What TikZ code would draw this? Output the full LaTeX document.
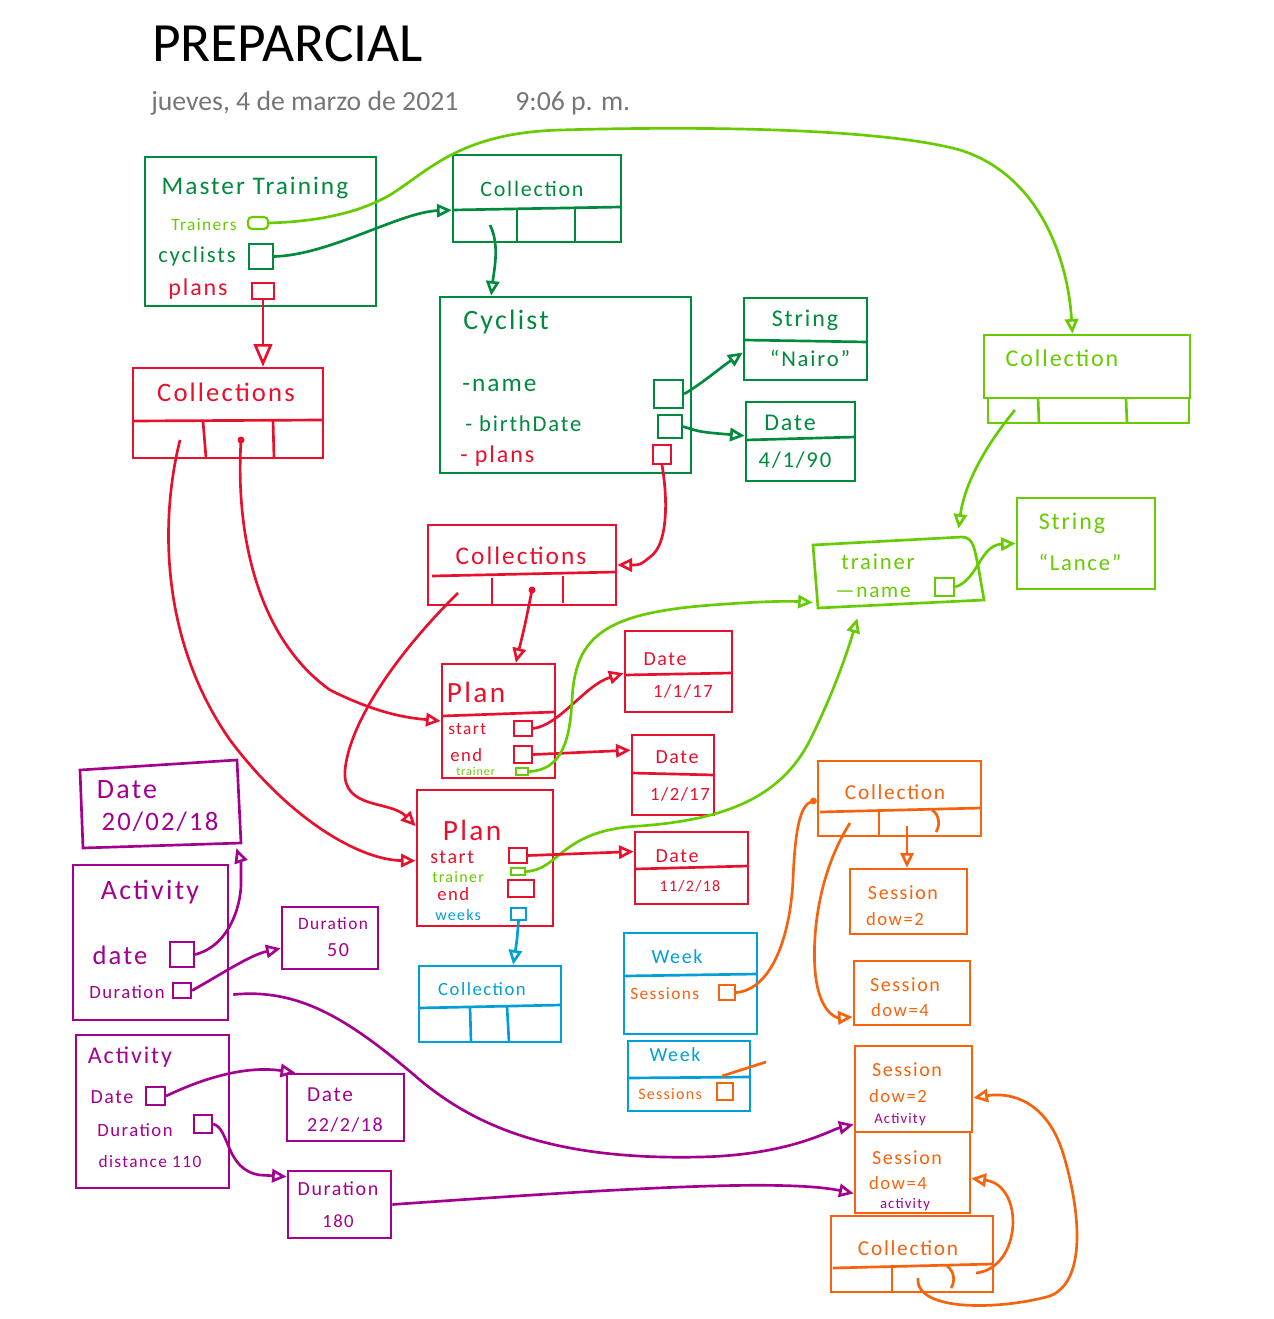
\documentclass[tikz,border=0pt]{standalone}
\usepackage{fontspec}
\setmainfont{Carlito}
\newfontfamily\hand[LetterSpace=8]{Carlito}
\usetikzlibrary{arrows.meta,fit,calc}
\newcommand\fz[1]{\fontsize{#1}{#1}\selectfont}
\definecolor{dg}{HTML}{008A3E}
\definecolor{lg}{HTML}{66CC00}
\definecolor{rd}{HTML}{E8112D}
\definecolor{pu}{HTML}{A3008F}
\definecolor{og}{HTML}{F7630C}
\definecolor{bl}{HTML}{00A0D6}
\definecolor{gy}{HTML}{767676}
\newcommand\mybox[6]{\node[hb,draw=#6,fit={(#2,#3)(#4,#5)}] (#1) {};}
\newcommand\mysbox[6]{\node[sbx,draw=#6,fit={(#2,#3)(#4,#5)}] (#1) {};}
\begin{document}
\begin{tikzpicture}[x=0.75pt,y=-0.75pt,
  hb/.style={inner sep=0pt,line width=2pt},
  sbx/.style={inner sep=0pt,line width=1.6pt},
  ln/.style={line width=2pt},
  lab/.style={inner sep=0pt,font=\hand\fz{#1}},lab/.default=16,
  arr/.style={line width=2pt,-{Triangle[open,length=11pt,width=10pt]}},
  bigarr/.style={line width=2pt,-{Triangle[open,length=17pt,width=14pt]}},
  dotarr/.style={line width=2pt,-{Circle[length=5pt]}}]
\fill[white] (0,0) rectangle (1273,1319);
\useasboundingbox (0,0) rectangle (1273,1319);

% header
\node[anchor=west,inner sep=0pt,font=\fz{41.5}] (title) at (152,44) {PREPARCIAL};
\node[anchor=west,inner sep=0pt,font=\fz{20.8},text=gy] (day) at (151,103) {jueves, 4 de marzo de 2021};
\node[anchor=west,inner sep=0pt,font=\fz{20.8},text=gy] (hour) at (515,103) {9:06 p. m.};

% Master Training
\mybox{mt}{145}{157}{376}{306}{dg}
\node[lab=19,text=dg] (mtt) at (255,188) {Master Training};
\node[lab=13,text=lg] (mttrl) at (204,225) {Trainers};
\node[sbx,draw=lg,rounded corners=3pt,fit={(248,217)(268,229)}] (mttr) {};
\node[lab=17,text=dg] (mtcyl) at (197,256) {cyclists};
\mysbox{mtcy}{249}{244}{273}{269}{dg}
\node[lab=18,text=rd] (mtpll) at (198,289) {plans};
\mysbox{mtpl}{252}{283}{274}{299}{rd}

% Collection (dark green)
\mybox{colA}{453}{155}{621}{242}{dg}
\draw[dg,ln] (453,210) -- (621,207);
\draw[dg,ln] (517,210) -- (517,242) (575,209) -- (575,242);
\node[lab=16.5,text=dg] (colAt) at (532,189) {Collection};
\coordinate (colAc1) at (490,225);

% Cyclist
\mybox{cyc}{440}{297}{691}{473}{dg}
\node[lab=21,text=dg] (cyct) at (506,322) {Cyclist};
\node[lab=19,text=dg,anchor=west] (cycnl) at (462,385) {-name};
\node[lab=17,text=dg,anchor=west] (cycbl) at (465,424) {- birthDate};
\node[lab=18,text=rd,anchor=west] (cycpl) at (460,456) {- plans};
\mysbox{cycn}{654}{380}{683}{408}{dg}
\mysbox{cycb}{658}{415}{682}{438}{dg}
\mysbox{cycp}{653}{445}{671}{464}{rd}

% String Nairo
\mybox{strN}{744}{298}{867}{380}{dg}
\draw[dg,ln] (744,340) -- (867,342);
\node[lab=18,text=dg] (strNt) at (805,320) {String};
\node[lab=17,text=dg] (strNv) at (810,358) {“Nairo”};

% Date 4/1/90
\mybox{dtA}{746}{402}{855}{481}{dg}
\draw[dg,ln] (746,440) -- (855,437);
\node[lab=18,text=dg] (dtAt) at (790,423) {Date};
\node[lab=17,text=dg] (dtAv) at (795,460) {4/1/90};

% Collection (light green)
\mybox{colT}{984}{335}{1190}{398}{lg}
\mybox{colTc}{988}{398}{1189}{423}{lg}
\draw[lg,ln] (1038,398) -- (1039,423) (1126,399) -- (1127,423);
\node[lab=18,text=lg] (colTt) at (1062,358) {Collection};
\coordinate (colTc1) at (1015,410);

% trainer
\draw[lg,ln] (813,545) -- (962,537) to[out=0,in=105] (978,565) -- (984,600) -- (818,608) -- cycle;
\node[inner sep=0pt,fit={(813,537)(984,608)}] (trn) {};
\node[lab=17,text=lg] (trnt) at (878,562) {trainer};
\node[lab=16,text=lg] (trnl) at (873,592) {—name};
\mysbox{trnn}{935}{578}{954}{596}{lg}

% String Lance
\mybox{strL}{1017}{498}{1155}{589}{lg}
\node[lab=18,text=lg] (strLt) at (1072,523) {String};
\node[lab=17,text=lg] (strLv) at (1080,562) {“Lance”};

% Collections red top-left
\mybox{colR}{133}{368}{323}{458}{rd}
\draw[rd,ln] (133,421) -- (323,420);
\draw[rd,ln] (203,421) -- (206,458) (273,420) -- (274,458);
\node[lab=20,text=rd] (colRt) at (226,392) {Collections};
\coordinate (colRc1) at (180,440);
\coordinate (colRc2) at (241,440);

% Collections red mid
\mybox{colM}{428}{525}{616}{605}{rd}
\draw[rd,ln] (432,576) -- (616,572);
\draw[rd,ln] (492,578) -- (492,604) (563,576) -- (563,603);
\node[lab=19,text=rd] (colMt) at (521,556) {Collections};
\coordinate (colMc1) at (458,593);
\coordinate (colMc2) at (532,590);

% Plan 1
\mybox{pl1}{442}{664}{555}{778}{rd}
\draw[rd,ln] (442,716) -- (555,712);
\node[lab=22,text=rd] (pl1t) at (476,692) {Plan};
\node[lab=13,text=rd,anchor=west] (pl1sl) at (448,729) {start};
\node[lab=14,text=rd,anchor=west] (pl1el) at (450,755) {end};
\node[lab=9,text=lg,anchor=west] (pl1tl) at (456,771) {trainer};
\mysbox{pl1s}{514}{721}{532}{736}{rd}
\mysbox{pl1e}{514}{746}{532}{763}{rd}
\mysbox{pl1tr}{516}{768}{528}{775}{lg}

% Date 1/1/17
\mybox{d1}{625}{631}{732}{712}{rd}
\draw[rd,ln] (625,675) -- (732,673);
\node[lab=15,text=rd] (d1t) at (665,659) {Date};
\node[lab=14,text=rd] (d1v) at (683,691) {1/1/17};

% Date 1/2/17
\mybox{d2}{632}{735}{714}{815}{rd}
\draw[rd,ln] (632,773) -- (714,775);
\node[lab=15,text=rd] (d2t) at (677,757) {Date};
\node[lab=14,text=rd] (d2v) at (680,794) {1/2/17};

% Plan 2
\mybox{pl2}{417}{790}{553}{926}{rd}
\node[lab=22,text=rd] (pl2t) at (472,830) {Plan};
\node[lab=15,text=rd,anchor=west] (pl2sl) at (430,857) {start};
\node[lab=12,text=lg,anchor=west] (pl2tl) at (432,877) {trainer};
\node[lab=14,text=rd,anchor=west] (pl2el) at (437,894) {end};
\node[lab=12,text=bl,anchor=west] (pl2wl) at (435,915) {weeks};
\mysbox{pl2s}{509}{848}{527}{863}{rd}
\mysbox{pl2tr}{511}{868}{525}{875}{lg}
\mysbox{pl2e}{508}{880}{534}{897}{rd}
\mysbox{pl2w}{511}{908}{526}{920}{bl}

% Date 11/2/18
\mybox{d3}{635}{832}{748}{904}{rd}
\draw[rd,ln] (635,869) -- (748,866);
\node[lab=15,text=rd] (d3t) at (677,856) {Date};
\node[lab=12,text=rd] (d3v) at (690,886) {11/2/18};

% Collection blue
\mybox{colB}{419}{966}{561}{1042}{bl}
\draw[bl,ln] (419,1008) -- (561,1005);
\draw[bl,ln] (470,1007) -- (471,1042) (507,1006) -- (509,1042);
\node[lab=14,text=bl] (colBt) at (482,989) {Collection};

% Week 1
\mybox{wk1}{624}{933}{757}{1034}{bl}
\draw[bl,ln] (624,976) -- (757,974);
\node[lab=15,text=bl] (wk1t) at (677,957) {Week};
\node[lab=13,text=og,anchor=west] (wk1l) at (630,994) {Sessions};
\mysbox{wk1s}{719}{985}{735}{1000}{og}

% Week 2
\mybox{wk2}{628}{1041}{750}{1111}{bl}
\draw[bl,ln] (628,1078) -- (750,1077);
\node[lab=15,text=bl] (wk2t) at (675,1055) {Week};
\node[lab=12,text=og,anchor=west] (wk2l) at (638,1094) {Sessions};
\mysbox{wk2s}{717}{1083}{733}{1100}{og}
\coordinate (wk2a) at (722,1076);
\coordinate (wk2b) at (766,1062);
\draw[og,ln] (wk2a) -- (wk2b);

% Collection orange
\mybox{colO}{818}{761}{981}{836}{og}
\draw[og,ln] (820,812) -- (981,808);
\draw[og,ln] (879,812) -- (879,836);
\draw[og,ln] (932,810) .. controls (940,815) and (940,826) .. (936,832);
\node[lab=16,text=og] (colOt) at (895,792) {Collection};
\coordinate (colOc1) at (850,823);
\coordinate (colOc2) at (907,826);

% Sessions
\mybox{s1}{850}{869}{967}{934}{og}
\node[lab=15,text=og] (s1t) at (903,893) {Session};
\node[lab=14,text=og] (s1v) at (895,919) {dow=2};
\mybox{s2}{854}{961}{970}{1025}{og}
\node[lab=15,text=og] (s2t) at (905,985) {Session};
\node[lab=14,text=og] (s2v) at (900,1010) {dow=4};
\mybox{s3}{855}{1046}{972}{1132}{og}
\node[lab=15,text=og] (s3t) at (907,1070) {Session};
\node[lab=14,text=og] (s3v) at (898,1096) {dow=2};
\node[lab=11,text=pu] (s3a) at (900,1120) {Activity};
\mybox{s4}{855}{1132}{970}{1213}{og}
\node[lab=15,text=og] (s4t) at (907,1158) {Session};
\node[lab=14,text=og] (s4v) at (898,1183) {dow=4};
\node[lab=11,text=pu] (s4a) at (905,1205) {activity};

% Collection orange bottom
\mybox{colO2}{831}{1216}{993}{1292}{og}
\draw[og,ln] (833,1268) -- (993,1264);
\draw[og,ln] (892,1268) -- (892,1292);
\draw[og,ln] (947,1266) .. controls (955,1272) and (955,1282) .. (951,1288);
\node[lab=16,text=og] (colO2t) at (908,1248) {Collection};
\coordinate (colO2c1) at (918,1278);
\coordinate (colO2c2) at (976,1273);

% Date 20/02/18 (purple)
\draw[pu,ln] (80,770) -- (237,760) -- (241,843) -- (83,848) -- cycle;
\node[inner sep=0pt,fit={(80,760)(241,848)}] (dP) {};
\node[lab=21,text=pu] (dPt) at (127,790) {Date};
\node[lab=20,text=pu] (dPv) at (160,822) {20/02/18};

% Activity 1
\mybox{ac1}{73}{865}{228}{1020}{pu}
\node[lab=21,text=pu] (ac1t) at (150,892) {Activity};
\node[lab=20,text=pu] (ac1dl) at (120,955) {date};
\mysbox{ac1d}{170}{942}{194}{967}{pu}
\node[lab=14,text=pu] (ac1ul) at (127,992) {Duration};
\mysbox{ac1u}{173}{983}{191}{998}{pu}

% Duration 50
\mybox{du50}{282}{907}{378}{969}{pu}
\node[lab=13,text=pu] (du50t) at (333,924) {Duration};
\node[lab=15,text=pu] (du50v) at (338,950) {50};

% Activity 2
\mybox{ac2}{76}{1035}{229}{1188}{pu}
\node[lab=18,text=pu] (ac2t) at (130,1057) {Activity};
\node[lab=15,text=pu] (ac2dl) at (112,1097) {Date};
\mysbox{ac2d}{146}{1087}{165}{1105}{pu}
\node[lab=14,text=pu] (ac2ul) at (135,1130) {Duration};
\mysbox{ac2u}{194}{1115}{212}{1133}{pu}
\node[lab=13,text=pu] (ac2x) at (150,1162) {distance 110};

% Date 22/2/18
\mybox{d22}{287}{1074}{404}{1141}{pu}
\node[lab=16,text=pu] (d22t) at (330,1095) {Date};
\node[lab=15,text=pu] (d22v) at (345,1125) {22/2/18};

% Duration 180
\mybox{du180}{288}{1171}{391}{1238}{pu}
\node[lab=15,text=pu] (du180t) at (338,1189) {Duration};
\node[lab=14,text=pu] (du180v) at (338,1221) {180};

%%%% connectors
% light green Trainers -> Collection
\draw[arr,lg] (mttr.east) .. controls (300,222) and (350,218) .. (390,195)
  .. controls (430,170) and (460,133) .. (560,130)
  .. controls (700,126) and (880,128) .. (960,150)
  .. controls (1040,175) and (1068,260) .. ($(colT.north west)!.43!(colT.north east)$);
% cyclists -> Collection
\draw[arr,dg] (mtcy.east) .. controls (330,255) and (400,212) .. ($(colA.north west)!.63!(colA.south west)$);
\draw[arr,dg] (colAc1) .. controls (500,245) and (494,270) .. ($(cyc.north west)!.207!(cyc.north east)$);
% plans -> Collections
\draw[bigarr,rd] (mtpl.south) -- (colR.north -| mtpl.south);
% name, birthDate
\draw[arr,dg] (cycn.east) .. controls (700,385) and (720,368) .. ($(strN.north west)!.66!(strN.south west)$);
\draw[arr,dg] (cycb.east) .. controls (700,432) .. ($(dtA.north west)!.43!(dtA.south west)$);
% cyclist plans -> Collections mid
\draw[arr,rd] (cycp.south) .. controls (668,500) and (668,545) .. (650,557) .. controls (640,565) .. (colM.east);
% Collection lg -> trainer
\draw[arr,lg] (colTc1) .. controls (990,440) and (965,480) .. ($(trn.north west)!.85!(trn.north east)+(0,-8)$);
% trainer name -> String Lance
\draw[arr,lg] (trnn.east) .. controls (978,580) and (980,545) .. (strL.west);
% Collections red -> Plans
\fill[rd] (colRc2) circle (3.5);
\draw[arr,rd] (colRc1) .. controls (160,520) and (160,640) .. (230,740)
  .. controls (290,820) and (360,860) .. ($(pl2.north west)!.52!(pl2.south west)$);
\draw[arr,rd] (colRc2) .. controls (235,540) and (260,640) .. (330,690)
  .. controls (380,715) and (410,718) .. ($(pl1.north west)!.5!(pl1.south west)$);
\draw[arr,rd] (colMc1) .. controls (400,650) and (350,720) .. (345,770)
  .. controls (342,810) and (390,800) .. ($(pl2.north west)!.27!(pl2.south west)$);
\fill[rd] (colMc2) circle (3.5);
\draw[arr,rd] (colMc2) .. controls (525,625) .. ($(pl1.north west)!.65!(pl1.north east)$);
% Plan 1 fields
\draw[arr,rd] (pl1s.east) .. controls (560,725) and (585,685) .. ($(d1.north west)!.52!(d1.south west)$);
\draw[arr,rd] (pl1e.east) -- ($(d2.north west)!.2!(d2.south west)$);
\draw[arr,lg] (pl1tr.east) .. controls (562,770) and (570,740) .. (572,700)
  .. controls (575,640) and (600,615) .. (700,606)
  .. controls (760,601) and (790,601) .. ($(trn.north west)!.92!(trn.south west)$);
% Plan 2 fields
\draw[arr,lg] (pl2tr.east) .. controls (560,870) and (560,830) .. (640,826)
  .. controls (720,820) and (780,800) .. (810,740)
  .. controls (830,700) and (845,660) .. ($(trn.south west)!.26!(trn.south east)+(0,10)$);
\draw[arr,rd] (pl2s.east) -- ($(d3.north west)!.28!(d3.south west)$);
\draw[arr,bl] (pl2w.south) .. controls (517,940) .. ($(colB.north west)!.66!(colB.north east)$);
% orange
\draw[dotarr,og] (wk1s.east) .. controls (770,990) and (790,940) .. (793,880)
  .. controls (795,830) and (800,805) .. ($(colO.north west)!.52!(colO.south west)$);
\draw[arr,og] (colOc2) -- (s1.north -| colOc2);
\draw[arr,og] (colOc1) .. controls (820,870) and (812,930) .. (815,970)
  .. controls (818,1010) and (835,1018) .. ($(s2.north west)!.86!(s2.south west)$);
\draw[arr,og] (colO2c2) .. controls (1022,1268) and (1025,1185) .. ($(s4.north east)!.57!(s4.south east)$);
\draw[arr,og] (colO2c1) .. controls (915,1312) and (1000,1310) .. (1050,1296)
  .. controls (1090,1280) and (1078,1200) .. (1062,1150)
  .. controls (1045,1100) and (1010,1092) .. ($(s3.north east)!.6!(s3.south east)$);
% purple
\draw[arr,pu] (ac1d.east) .. controls (232,945) and (242,900) .. (241,880)
  .. controls (241,862) .. ($(dP.south west)!.97!(dP.south east)$);
\draw[arr,pu] (ac1u.east) .. controls (220,975) and (250,955) .. ($(du50.north west)!.66!(du50.south west)$);
\draw[arr,pu] ($(ac1.north east)!.83!(ac1.south east)+(4,0)$) .. controls (300,988) and (350,1020) .. (420,1080)
  .. controls (480,1130) and (560,1160) .. (700,1157)
  .. controls (790,1155) and (830,1130) .. ($(s3.north west)!.9!(s3.south west)$);
\draw[arr,pu] (ac2d.east) .. controls (210,1075) and (250,1066) .. ($(d22.north west)!.08!(d22.north east)$);
\draw[arr,pu] (ac2u.east) .. controls (230,1128) and (225,1170) .. (260,1175) -- ($(du180.north west)!.1!(du180.south west)$);
\draw[arr,pu] (du180.east) .. controls (600,1190) and (780,1178) .. ($(s4.north west)!.75!(s4.south west)$);
\end{tikzpicture}
\end{document}
